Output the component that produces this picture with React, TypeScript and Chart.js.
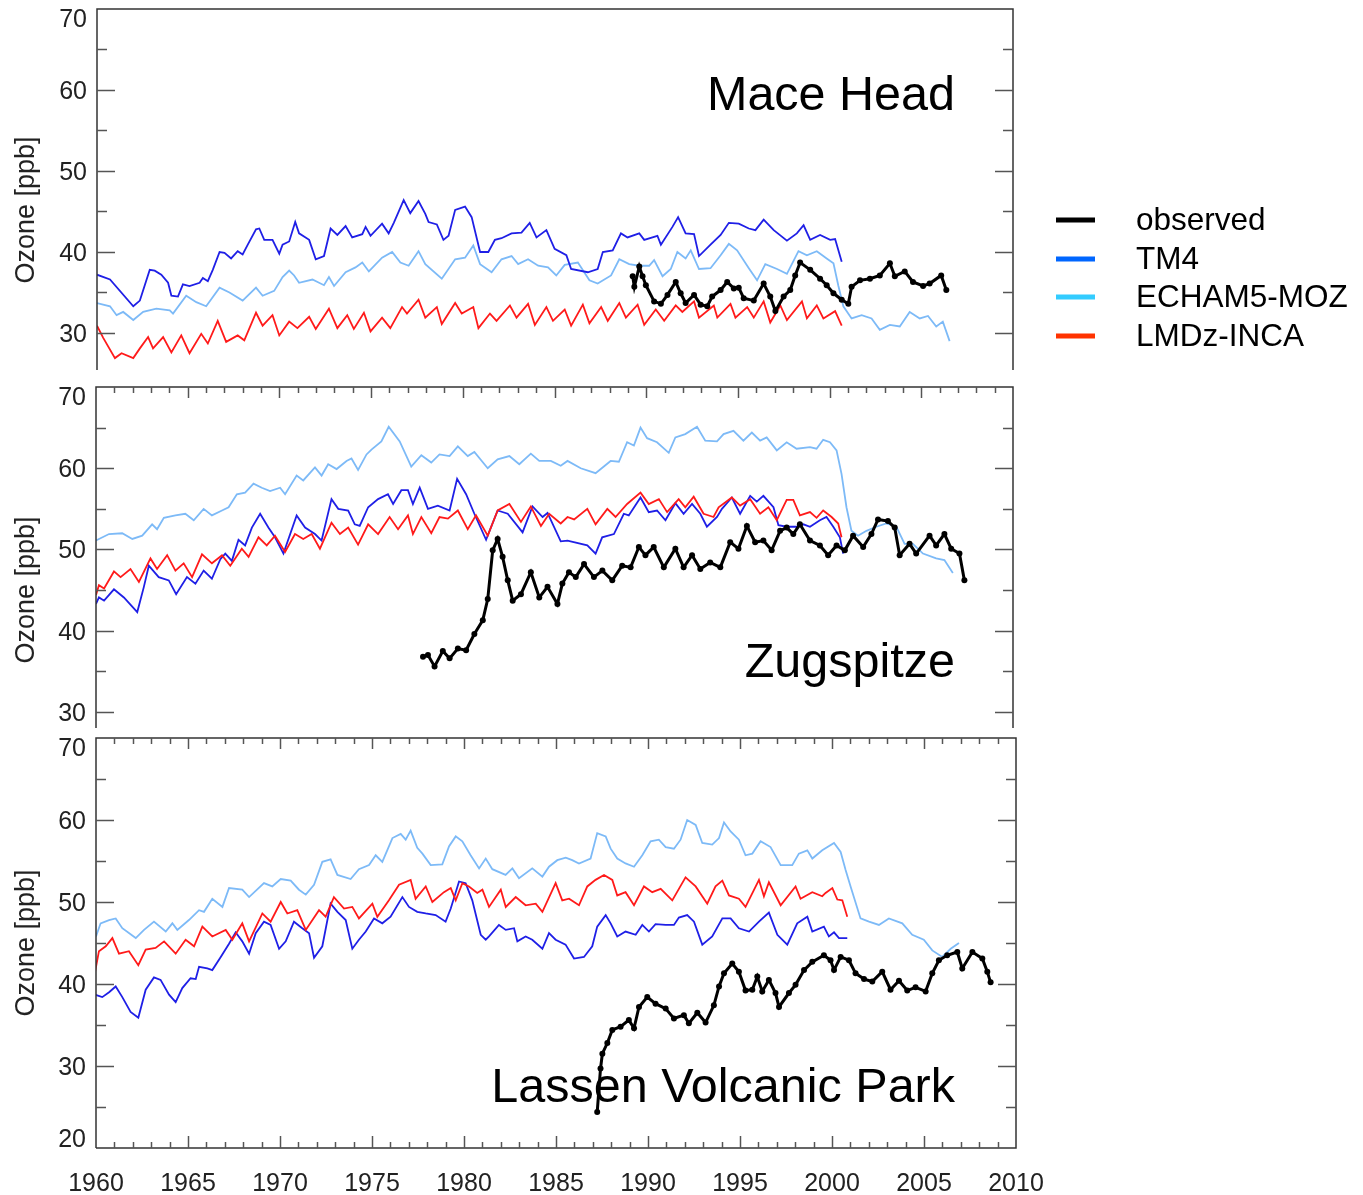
import React, { useEffect, useRef } from 'react';
import { Chart, registerables } from 'chart.js';

Chart.register(...registerables);

type Series = [number, number][];

// ---------- Mace Head ----------
const maceObserved: Series = [
  [1989.24, 37.0], [1989.33, 35.7], [1989.6, 38.2], [1989.78, 37.0], [1989.96, 35.9], [1990.41, 33.9], [1990.78, 33.6],
  [1991.14, 34.7], [1991.59, 36.3], [1991.86, 34.9], [1992.13, 33.7], [1992.59, 34.7], [1992.95, 33.5], [1993.31, 33.3],
  [1993.58, 34.5], [1994.04, 35.3], [1994.4, 36.3], [1994.76, 35.5], [1995.03, 35.6], [1995.3, 34.3], [1995.85, 34.0],
  [1996.39, 36.1], [1996.75, 34.5], [1997.03, 32.7], [1997.48, 34.5], [1997.84, 35.3], [1998.11, 37.1], [1998.38, 38.7],
  [1998.93, 37.8], [1999.47, 36.7], [1999.83, 35.9], [2000.2, 34.9], [2000.65, 34.1], [2001.01, 33.6], [2001.19, 35.7],
  [2001.65, 36.5], [2002.19, 36.7], [2002.73, 37.1], [2003.28, 38.6], [2003.55, 37.0], [2004.09, 37.6], [2004.54, 36.3],
  [2005.09, 35.8], [2005.45, 36.1], [2006.08, 37.1], [2006.36, 35.3],
];
const maceTM4: Series = [
  [1960.0, 37.2], [1960.71, 36.6], [1961.98, 33.3], [1962.34, 34.0], [1962.88, 37.8], [1963.15, 37.7], [1963.51, 37.2],
  [1963.88, 36.2], [1964.06, 34.6], [1964.42, 34.5], [1964.69, 36.0], [1965.05, 35.8], [1965.6, 36.2], [1965.78, 36.8],
  [1966.05, 36.4], [1966.32, 37.8], [1966.69, 40.0], [1966.96, 39.9], [1967.32, 39.2], [1967.68, 40.1], [1967.95, 39.7],
  [1968.23, 40.9], [1968.68, 42.8], [1968.86, 42.9], [1969.13, 41.5], [1969.58, 41.5], [1969.95, 39.8], [1970.13, 40.9],
  [1970.49, 41.3], [1970.82, 43.7], [1971.03, 42.3], [1971.58, 41.5], [1971.94, 39.1], [1972.39, 39.5], [1972.75, 42.9],
  [1973.12, 42.1], [1973.57, 43.2], [1973.93, 41.8], [1974.48, 42.2], [1974.66, 43.1], [1974.93, 42.0], [1975.56, 43.5],
  [1975.92, 42.3], [1976.2, 43.6], [1976.74, 46.4], [1977.1, 44.8], [1977.55, 46.3], [1977.92, 44.7], [1978.1, 43.7],
  [1978.55, 43.4], [1978.91, 41.5], [1979.19, 42.0], [1979.55, 45.2], [1980.09, 45.6], [1980.45, 44.3], [1980.91, 40.0],
  [1981.36, 40.0], [1981.72, 41.5], [1982.08, 41.7], [1982.63, 42.3], [1983.17, 42.4], [1983.62, 43.6], [1983.99, 41.8],
  [1984.53, 42.7], [1984.98, 40.4], [1985.62, 39.6], [1985.88, 37.9], [1986.79, 37.5], [1987.33, 37.9], [1987.61, 40.0],
  [1988.15, 40.2], [1988.6, 42.3], [1988.96, 41.8], [1989.6, 42.3], [1989.87, 41.5], [1990.59, 42.0], [1990.78, 40.9],
  [1991.41, 43.1], [1991.72, 44.3], [1992.13, 42.3], [1992.59, 42.2], [1992.86, 39.5], [1993.49, 40.9], [1994.04, 42.1],
  [1994.49, 43.6], [1995.03, 43.5], [1995.58, 42.9], [1995.94, 42.7], [1996.39, 44.0], [1996.94, 42.7], [1997.66, 41.4],
  [1998.2, 42.3], [1998.57, 43.3], [1998.93, 41.5], [1999.47, 42.1], [2000.02, 41.5], [2000.29, 41.6], [2000.65, 38.8],
];
const maceECHAM: Series = [
  [1960.0, 33.7], [1960.71, 33.3], [1961.07, 32.2], [1961.43, 32.6], [1961.98, 31.6], [1962.52, 32.6], [1963.24, 33.0],
  [1963.97, 32.8], [1964.15, 32.4], [1964.87, 34.6], [1965.42, 33.8], [1965.96, 33.3], [1966.69, 35.6], [1967.23, 35.0],
  [1967.95, 34.0], [1968.68, 35.6], [1969.04, 34.6], [1969.67, 35.2], [1970.13, 36.9], [1970.49, 37.7], [1970.76, 37.1],
  [1971.03, 36.2], [1971.76, 36.6], [1972.39, 35.9], [1972.66, 36.9], [1972.94, 35.8], [1973.57, 37.5], [1974.11, 38.1],
  [1974.48, 38.7], [1974.84, 37.6], [1975.56, 39.3], [1976.11, 40.0], [1976.56, 38.7], [1977.01, 38.3], [1977.55, 40.1],
  [1977.92, 38.5], [1978.82, 36.7], [1979.55, 39.1], [1980.09, 39.3], [1980.54, 40.8], [1980.91, 38.5], [1981.54, 37.5],
  [1982.08, 39.1], [1982.63, 39.5], [1982.99, 38.5], [1983.53, 39.1], [1984.08, 38.3], [1984.62, 38.1], [1985.07, 37.1],
  [1985.53, 38.4], [1986.25, 38.7], [1986.88, 36.5], [1987.33, 36.1], [1988.06, 37.1], [1988.51, 39.1], [1989.05, 38.5],
  [1989.6, 38.3], [1990.14, 38.3], [1990.41, 39.0], [1990.87, 37.0], [1991.32, 37.9], [1991.68, 40.0], [1992.13, 39.2],
  [1992.41, 40.2], [1992.86, 37.9], [1993.49, 38.0], [1994.04, 39.6], [1994.49, 41.0], [1994.94, 40.2], [1995.58, 38.0],
  [1996.03, 36.5], [1996.48, 38.5], [1997.12, 37.9], [1997.66, 37.3], [1998.29, 40.1], [1998.75, 39.6], [1999.29, 40.1],
  [1999.83, 39.2], [2000.2, 38.6], [2000.47, 35.8], [2000.74, 33.3], [2001.19, 31.8], [2001.74, 32.2], [2002.28, 31.8],
  [2002.73, 30.4], [2003.28, 31.0], [2003.82, 30.8], [2004.36, 32.6], [2004.91, 31.8], [2005.36, 32.1], [2005.81, 30.8],
  [2006.17, 31.4], [2006.54, 29.0],
];
const maceLMDz: Series = [
  [1960.0, 30.9], [1960.34, 29.4], [1960.98, 26.9], [1961.34, 27.5], [1961.98, 26.9], [1962.34, 28.1], [1962.79, 29.5],
  [1963.06, 28.1], [1963.61, 29.5], [1964.06, 27.6], [1964.6, 29.7], [1965.05, 27.5], [1965.69, 29.9], [1966.05, 28.7],
  [1966.59, 31.5], [1967.05, 28.9], [1967.68, 29.7], [1968.04, 29.1], [1968.68, 32.5], [1969.04, 30.9], [1969.58, 32.2],
  [1969.95, 29.7], [1970.49, 31.4], [1970.94, 30.6], [1971.58, 32.0], [1971.94, 30.5], [1972.66, 33.0], [1973.12, 30.6],
  [1973.66, 32.2], [1974.02, 30.5], [1974.57, 32.5], [1974.93, 30.2], [1975.56, 31.9], [1976.01, 30.6], [1976.65, 33.2],
  [1976.92, 32.4], [1977.55, 34.1], [1977.92, 31.9], [1978.55, 33.2], [1978.82, 31.1], [1979.55, 33.7], [1979.91, 32.4],
  [1980.54, 33.2], [1980.82, 30.6], [1981.45, 32.4], [1981.81, 31.5], [1982.54, 33.4], [1982.9, 31.9], [1983.53, 33.6],
  [1983.9, 31.0], [1984.53, 33.2], [1984.89, 31.5], [1985.53, 32.9], [1985.88, 30.9], [1986.52, 33.5], [1986.88, 31.2],
  [1987.52, 33.2], [1987.88, 31.5], [1988.51, 33.7], [1988.87, 31.9], [1989.51, 33.5], [1989.87, 31.0], [1990.5, 32.9],
  [1990.96, 31.5], [1991.59, 33.4], [1991.95, 32.6], [1992.59, 33.9], [1992.86, 31.9], [1993.67, 33.4], [1993.86, 31.9],
  [1994.58, 33.6], [1994.85, 31.9], [1995.49, 33.2], [1995.85, 31.9], [1996.39, 33.9], [1996.75, 31.3], [1997.3, 33.4],
  [1997.66, 31.6], [1998.48, 33.9], [1998.75, 31.8], [1999.29, 33.4], [1999.65, 31.8], [2000.29, 32.7], [2000.65, 30.9],
];

// ---------- Zugspitze ----------
const zugObserved: Series = [
  [1977.83, 36.8], [1978.1, 37.0], [1978.46, 35.6], [1978.91, 37.5], [1979.28, 36.6], [1979.73, 37.8], [1980.18, 37.6],
  [1980.63, 39.6], [1981.09, 41.3], [1981.36, 43.9], [1981.63, 49.9], [1981.9, 51.3], [1982.17, 49.1], [1982.45, 46.2],
  [1982.72, 43.7], [1983.17, 44.5], [1983.71, 47.2], [1984.17, 44.1], [1984.62, 45.4], [1985.16, 43.3], [1985.43, 45.8],
  [1985.79, 47.2], [1986.16, 46.6], [1986.61, 48.2], [1987.15, 46.6], [1987.61, 47.4], [1988.15, 46.2], [1988.69, 48.0],
  [1989.15, 47.8], [1989.6, 50.3], [1989.96, 49.3], [1990.41, 50.3], [1990.96, 47.8], [1991.59, 50.1], [1992.04, 47.8],
  [1992.5, 49.3], [1992.95, 47.6], [1993.49, 48.4], [1994.04, 47.8], [1994.58, 50.9], [1995.03, 50.1], [1995.49, 52.9],
  [1995.94, 50.9], [1996.39, 51.1], [1996.84, 49.9], [1997.3, 52.3], [1997.66, 52.7], [1998.02, 51.9], [1998.38, 53.1],
  [1998.93, 51.1], [1999.47, 50.5], [1999.92, 49.3], [2000.38, 50.5], [2000.83, 49.9], [2001.28, 51.7], [2001.83, 50.3],
  [2002.28, 51.9], [2002.64, 53.7], [2003.18, 53.5], [2003.55, 52.7], [2003.82, 49.3], [2004.36, 50.7], [2004.72, 49.5],
  [2005.45, 51.7], [2005.81, 50.5], [2006.26, 51.9], [2006.63, 50.1], [2007.08, 49.5], [2007.35, 46.2],
];
const zugTM4: Series = [
  [1960.0, 43.3], [1960.16, 44.1], [1960.44, 43.7], [1960.98, 45.1], [1961.52, 44.1], [1962.25, 42.3], [1962.61, 45.4],
  [1962.88, 48.0], [1963.42, 46.6], [1963.97, 46.2], [1964.37, 44.5], [1964.96, 46.6], [1965.42, 45.8], [1965.87, 47.4],
  [1966.32, 46.4], [1966.78, 48.8], [1967.05, 49.5], [1967.41, 48.6], [1967.77, 51.2], [1968.13, 50.5], [1968.5, 52.7],
  [1968.95, 54.4], [1969.4, 52.7], [1969.76, 51.5], [1970.22, 49.5], [1970.94, 54.2], [1971.4, 52.7], [1971.94, 51.9],
  [1972.3, 51.1], [1972.84, 56.2], [1973.21, 55.0], [1973.75, 54.8], [1974.11, 53.1], [1974.38, 52.9], [1974.84, 55.2],
  [1975.38, 56.2], [1975.92, 56.8], [1976.2, 55.6], [1976.65, 57.3], [1977.01, 57.3], [1977.28, 55.6], [1977.65, 57.6],
  [1978.1, 55.0], [1978.64, 55.4], [1979.28, 54.8], [1979.69, 58.7], [1980.18, 56.8], [1980.63, 54.4], [1981.27, 51.2],
  [1981.9, 54.8], [1982.45, 54.4], [1983.26, 52.1], [1983.8, 55.3], [1984.35, 54.0], [1984.62, 54.5], [1985.34, 51.0],
  [1985.71, 51.1], [1986.79, 50.5], [1987.24, 49.5], [1987.6, 51.5], [1988.24, 51.9], [1988.78, 54.4], [1989.05, 54.2],
  [1989.69, 56.4], [1990.14, 54.6], [1990.59, 54.8], [1991.05, 53.6], [1991.59, 55.7], [1992.04, 54.4], [1992.5, 55.6],
  [1992.95, 54.4], [1993.31, 52.8], [1993.86, 54.0], [1994.13, 55.0], [1994.67, 56.4], [1995.12, 54.4], [1995.67, 56.6],
  [1996.03, 55.9], [1996.39, 56.6], [1996.94, 55.2], [1997.21, 53.0], [1997.66, 52.8], [1998.2, 52.8], [1998.57, 53.1],
  [1998.93, 52.8], [1999.47, 53.6], [1999.83, 54.0], [2000.2, 52.8], [2000.56, 51.5], [2000.74, 49.5],
];
const zugECHAM: Series = [
  [1960.0, 51.1], [1960.71, 51.9], [1961.43, 52.0], [1961.98, 51.3], [1962.52, 51.7], [1963.06, 53.1], [1963.33, 52.5],
  [1963.7, 53.9], [1964.33, 54.2], [1964.87, 54.4], [1965.33, 53.6], [1965.87, 55.0], [1966.32, 54.2], [1966.87, 54.8],
  [1967.23, 55.2], [1967.68, 56.8], [1968.13, 57.0], [1968.59, 58.1], [1969.04, 57.6], [1969.49, 57.2], [1970.04, 57.6],
  [1970.31, 56.8], [1970.94, 59.1], [1971.3, 58.5], [1971.94, 60.1], [1972.3, 59.1], [1972.66, 60.5], [1973.12, 59.9],
  [1973.66, 60.9], [1973.93, 61.2], [1974.29, 59.8], [1974.75, 61.7], [1975.02, 62.3], [1975.56, 63.3], [1975.96, 65.1],
  [1976.56, 63.3], [1977.19, 60.2], [1977.74, 61.6], [1978.28, 60.7], [1978.73, 61.7], [1979.28, 61.5], [1979.73, 62.7],
  [1980.27, 61.5], [1980.63, 62.0], [1981.36, 60.0], [1981.9, 61.1], [1982.54, 61.5], [1983.08, 60.5], [1983.71, 61.8],
  [1984.17, 60.9], [1984.8, 60.9], [1985.34, 60.3], [1985.71, 60.9], [1986.43, 60.0], [1987.24, 59.4], [1988.06, 60.9],
  [1988.51, 60.8], [1988.96, 63.2], [1989.33, 62.8], [1989.69, 65.0], [1990.05, 63.7], [1990.59, 63.2], [1991.23, 61.9],
  [1991.59, 63.8], [1992.13, 64.2], [1992.77, 65.1], [1993.22, 63.4], [1993.86, 63.3], [1994.22, 64.2], [1994.76, 64.6],
  [1995.3, 63.4], [1995.76, 64.4], [1996.21, 63.4], [1996.57, 63.8], [1997.12, 62.2], [1997.66, 63.2], [1998.2, 62.4],
  [1998.93, 62.6], [1999.29, 62.4], [1999.65, 63.5], [2000.02, 63.2], [2000.38, 62.2], [2000.65, 59.3], [2000.92, 55.2],
  [2001.19, 52.3], [2001.55, 51.7], [2002.01, 52.3], [2002.55, 52.8], [2003.09, 53.2], [2003.64, 52.8], [2004.09, 50.7],
  [2004.54, 50.7], [2005.09, 49.5], [2005.81, 48.9], [2006.26, 48.7], [2006.72, 47.1],
];
const zugLMDz: Series = [
  [1960.0, 44.4], [1960.16, 45.6], [1960.44, 45.2], [1960.98, 47.3], [1961.34, 46.6], [1961.88, 47.6], [1962.34, 46.0],
  [1962.97, 48.9], [1963.33, 47.6], [1963.88, 49.3], [1964.33, 47.4], [1964.78, 48.3], [1965.24, 46.6], [1965.78, 49.4],
  [1966.32, 48.3], [1966.87, 49.3], [1967.32, 48.0], [1967.95, 50.1], [1968.32, 49.1], [1968.86, 51.5], [1969.31, 50.5],
  [1969.76, 51.7], [1970.31, 49.7], [1970.85, 51.9], [1971.3, 51.3], [1971.76, 51.9], [1972.21, 50.1], [1972.84, 53.3],
  [1973.3, 51.9], [1973.75, 52.7], [1974.29, 50.6], [1974.84, 53.1], [1975.38, 51.9], [1976.01, 54.0], [1976.47, 52.5],
  [1977.01, 54.2], [1977.28, 51.9], [1977.74, 54.0], [1978.28, 52.0], [1978.73, 54.0], [1979.19, 53.8], [1979.73, 54.8],
  [1980.27, 52.5], [1980.72, 54.2], [1981.36, 51.7], [1981.9, 54.8], [1982.54, 55.6], [1983.17, 53.4], [1983.71, 55.3],
  [1984.26, 52.9], [1984.71, 54.4], [1985.34, 53.2], [1985.71, 54.0], [1986.07, 53.7], [1986.79, 55.0], [1987.24, 53.1],
  [1987.88, 55.0], [1988.33, 54.0], [1988.96, 55.6], [1989.69, 57.0], [1990.14, 55.6], [1990.69, 56.2], [1991.14, 54.6],
  [1991.77, 56.2], [1992.13, 55.2], [1992.59, 56.5], [1993.13, 54.4], [1993.67, 54.0], [1993.95, 55.2], [1994.67, 56.4],
  [1995.12, 55.4], [1995.67, 56.2], [1996.21, 54.4], [1996.66, 55.2], [1997.12, 53.6], [1997.66, 56.1], [1998.02, 56.1],
  [1998.38, 54.2], [1998.93, 54.6], [1999.29, 53.9], [1999.65, 54.8], [2000.11, 54.0], [2000.47, 53.2], [2000.65, 51.5],
];

// ---------- Lassen Volcanic Park ----------
const lassenObserved: Series = [
  [1987.24, 24.4], [1987.42, 29.7], [1987.52, 31.5], [1987.79, 32.8], [1988.06, 34.4], [1988.51, 34.8], [1988.96, 35.6],
  [1989.24, 34.6], [1989.51, 37.2], [1989.96, 38.4], [1990.41, 37.6], [1990.96, 37.0], [1991.41, 35.8], [1991.95, 36.2],
  [1992.22, 35.2], [1992.68, 36.5], [1993.13, 35.3], [1993.58, 37.4], [1993.86, 39.7], [1994.13, 41.3], [1994.58, 42.5],
  [1994.94, 41.5], [1995.3, 39.2], [1995.67, 39.3], [1995.94, 40.9], [1996.21, 39.1], [1996.57, 40.5], [1996.93, 38.9],
  [1997.12, 37.2], [1997.66, 38.9], [1998.02, 39.9], [1998.48, 41.7], [1998.93, 42.7], [1999.56, 43.5], [1999.92, 42.9],
  [2000.11, 41.7], [2000.47, 43.3], [2000.92, 42.9], [2001.28, 41.3], [2001.74, 40.6], [2002.19, 40.3], [2002.73, 41.5],
  [2003.18, 39.3], [2003.64, 40.4], [2004.09, 39.2], [2004.54, 39.6], [2005.09, 39.1], [2005.45, 41.3], [2005.81, 42.9],
  [2006.26, 43.5], [2006.81, 43.9], [2007.08, 41.9], [2007.63, 43.9], [2008.17, 43.1], [2008.44, 41.5], [2008.62, 40.2],
];
const lassenTM4: Series = [
  [1959.95, 38.7], [1960.34, 38.4], [1960.71, 39.0], [1961.07, 39.7], [1961.43, 38.4], [1961.88, 36.6], [1962.3, 35.9],
  [1962.7, 39.3], [1963.15, 40.8], [1963.51, 40.5], [1963.97, 38.7], [1964.33, 37.8], [1964.69, 39.5], [1965.14, 40.7],
  [1965.42, 40.6], [1965.6, 42.1], [1966.05, 41.9], [1966.32, 41.7], [1966.78, 43.3], [1967.23, 44.9], [1967.59, 46.3],
  [1967.95, 45.2], [1968.32, 43.7], [1968.68, 46.2], [1969.13, 47.6], [1969.49, 47.2], [1969.95, 44.3], [1970.31, 45.2],
  [1970.76, 47.6], [1971.21, 46.8], [1971.58, 46.2], [1971.85, 43.2], [1972.3, 44.6], [1972.75, 49.8], [1973.12, 48.8],
  [1973.57, 47.8], [1973.93, 44.3], [1974.29, 45.4], [1974.66, 46.4], [1975.11, 48.0], [1975.56, 47.4], [1976.01, 48.2],
  [1976.65, 50.6], [1977.01, 49.4], [1977.46, 48.8], [1977.92, 48.6], [1978.46, 48.4], [1979.0, 47.6], [1979.28, 49.2],
  [1979.73, 52.5], [1980.09, 52.3], [1980.45, 50.2], [1980.91, 46.0], [1981.18, 45.4], [1981.36, 45.8], [1981.9, 47.2],
  [1982.27, 46.6], [1982.72, 46.8], [1982.9, 45.2], [1983.35, 45.8], [1983.71, 45.4], [1984.26, 44.3], [1984.62, 46.2],
  [1984.98, 45.4], [1985.52, 44.8], [1985.98, 43.1], [1986.52, 43.3], [1986.97, 44.6], [1987.24, 47.0], [1987.7, 48.4],
  [1987.97, 47.4], [1988.33, 45.8], [1988.78, 46.4], [1989.33, 46.0], [1989.69, 47.2], [1990.05, 46.4], [1990.41, 47.3],
  [1990.96, 47.2], [1991.41, 47.2], [1991.68, 48.1], [1992.13, 48.4], [1992.5, 47.6], [1992.95, 44.8], [1993.49, 45.8],
  [1994.04, 48.0], [1994.49, 48.0], [1994.94, 46.8], [1995.49, 46.4], [1996.03, 47.6], [1996.57, 48.7], [1997.03, 46.0],
  [1997.57, 44.8], [1998.11, 47.4], [1998.66, 48.2], [1998.93, 46.4], [1999.56, 47.0], [1999.83, 45.8], [2000.11, 46.3],
  [2000.38, 45.6], [2000.83, 45.6],
];
const lassenECHAM: Series = [
  [1960.0, 45.8], [1960.25, 47.4], [1960.71, 47.8], [1961.07, 48.0], [1961.43, 46.8], [1962.16, 45.6], [1962.61, 46.6],
  [1963.15, 47.6], [1963.79, 46.4], [1964.15, 47.4], [1964.42, 46.6], [1965.05, 47.8], [1965.6, 49.0], [1965.87, 48.8],
  [1966.32, 50.4], [1966.87, 49.4], [1967.23, 51.7], [1967.95, 51.5], [1968.32, 50.6], [1969.13, 52.3], [1969.58, 51.9],
  [1970.04, 52.8], [1970.58, 52.6], [1971.03, 51.5], [1971.4, 50.9], [1971.85, 52.1], [1972.3, 54.9], [1972.75, 55.2],
  [1973.12, 53.3], [1973.84, 52.8], [1974.29, 54.0], [1974.84, 54.5], [1975.2, 55.7], [1975.56, 54.9], [1976.11, 57.8],
  [1976.56, 58.3], [1976.83, 57.6], [1977.1, 58.7], [1977.46, 56.6], [1977.74, 55.9], [1978.19, 54.5], [1978.82, 54.6],
  [1979.19, 56.8], [1979.55, 58.0], [1979.91, 57.4], [1980.36, 55.7], [1980.82, 54.1], [1981.18, 55.3], [1981.54, 54.0],
  [1982.26, 53.3], [1982.63, 54.1], [1982.99, 52.9], [1983.71, 54.1], [1984.26, 53.1], [1984.62, 54.3], [1985.07, 55.1],
  [1985.53, 55.4], [1985.88, 55.1], [1986.25, 54.7], [1986.88, 55.3], [1987.24, 58.4], [1987.7, 58.0], [1987.97, 56.5],
  [1988.33, 55.3], [1988.78, 54.7], [1989.24, 54.3], [1989.69, 55.7], [1990.14, 57.4], [1990.59, 57.6], [1990.96, 56.7],
  [1991.41, 56.5], [1991.77, 57.6], [1992.13, 60.0], [1992.59, 59.4], [1992.95, 57.2], [1993.49, 57.0], [1993.86, 57.8],
  [1994.13, 59.7], [1994.49, 58.6], [1994.94, 57.6], [1995.3, 55.7], [1995.67, 55.9], [1996.12, 57.4], [1996.66, 56.7],
  [1997.21, 54.5], [1997.84, 54.5], [1998.2, 55.9], [1998.66, 56.3], [1998.93, 55.3], [1999.47, 56.3], [2000.11, 57.2],
  [2000.47, 56.1], [2000.74, 53.9], [2001.01, 51.9], [2001.55, 48.0], [2002.01, 47.6], [2002.55, 47.2], [2003.09, 48.0],
  [2003.82, 47.4], [2004.36, 46.0], [2004.99, 45.4], [2005.45, 44.1], [2005.99, 43.3], [2006.45, 44.3], [2006.9, 45.0],
];
const lassenLMDz: Series = [
  [1959.95, 41.5], [1960.16, 44.0], [1960.53, 44.6], [1960.89, 45.6], [1961.25, 43.7], [1961.79, 44.0], [1962.3, 42.3],
  [1962.7, 44.2], [1963.24, 44.4], [1963.7, 45.2], [1964.33, 43.7], [1964.87, 45.4], [1965.33, 44.6], [1965.78, 47.0],
  [1966.32, 45.8], [1967.05, 46.6], [1967.41, 45.4], [1967.95, 47.4], [1968.32, 45.2], [1969.04, 48.6], [1969.49, 47.6],
  [1970.04, 50.0], [1970.4, 48.6], [1970.94, 49.0], [1971.4, 46.6], [1972.12, 49.0], [1972.48, 48.2], [1972.93, 50.6],
  [1973.48, 49.2], [1973.93, 49.4], [1974.29, 48.0], [1975.02, 49.8], [1975.29, 48.2], [1975.92, 50.2], [1976.47, 52.1],
  [1977.1, 52.7], [1977.37, 50.4], [1977.92, 51.9], [1978.28, 50.0], [1978.91, 51.2], [1979.28, 51.7], [1979.55, 50.2],
  [1979.91, 52.3], [1980.27, 51.9], [1980.72, 51.1], [1981.0, 51.5], [1981.36, 49.4], [1982.0, 51.5], [1982.27, 49.4],
  [1982.81, 50.6], [1983.35, 49.6], [1983.9, 49.8], [1984.26, 48.8], [1984.98, 52.3], [1985.34, 50.2], [1985.71, 50.4],
  [1986.25, 49.6], [1986.7, 51.9], [1987.15, 52.7], [1987.61, 53.3], [1988.06, 52.7], [1988.33, 50.8], [1988.78, 51.2],
  [1989.24, 49.6], [1989.78, 51.9], [1990.23, 51.2], [1990.69, 51.6], [1991.32, 50.2], [1992.04, 53.0], [1992.59, 51.9],
  [1993.22, 49.8], [1993.67, 51.9], [1994.04, 52.6], [1994.4, 50.8], [1994.94, 50.4], [1995.3, 49.4], [1996.03, 52.7],
  [1996.3, 50.7], [1996.57, 52.4], [1997.21, 49.6], [1998.02, 51.9], [1998.29, 50.4], [1998.93, 51.2], [1999.47, 50.7],
  [1999.65, 51.1], [2000.02, 51.7], [2000.29, 50.3], [2000.56, 50.2], [2000.83, 48.2],
];

const yearTicks = [1960, 1965, 1970, 1975, 1980, 1985, 1990, 1995, 2000, 2005, 2010];
const upperYLabels = [70, 60, 50, 40, 30];
const lowerYLabels = [70, 60, 50, 40, 30, 20];
const legendLabels = ['observed', 'TM4', 'ECHAM5-MOZ', 'LMDz-INCA'];
const legendColors = ['#000000', '#0066ff', '#33ccff', '#ff3300'];

const COLOR_TM4 = '#1f1fe6';
const COLOR_ECHAM = '#7dbaf7';
const COLOR_LMDZ = '#ff1a1a';
const FONT = '"Liberation Sans", Arial, Helvetica, sans-serif';

interface PanelDef {
  title: string;
  top: number;
  height: number;
  pad: { left: number; right: number; top: number; bottom: number };
  yMin: number;
  yMax: number;
  yLabels: number[];
  topTicks: boolean;
  bottomAxis: boolean;
  titleBaseline: number;
  yTitleCenter: number;
  legend: boolean;
  observed: Series;
  tm4: Series;
  echam: Series;
  lmdz: Series;
}

const panels: PanelDef[] = [
  {
    title: 'Mace Head', top: 0, height: 378,
    pad: { left: 97, right: 350, top: 9, bottom: 8 },
    yMin: 25.43, yMax: 70, yLabels: upperYLabels, topTicks: false, bottomAxis: false,
    titleBaseline: 110, yTitleCenter: 210, legend: true,
    observed: maceObserved, tm4: maceTM4, echam: maceECHAM, lmdz: maceLMDz,
  },
  {
    title: 'Zugspitze', top: 378, height: 355,
    pad: { left: 96, right: 350, top: 9, bottom: 5 },
    yMin: 28.03, yMax: 70, yLabels: upperYLabels, topTicks: true, bottomAxis: false,
    titleBaseline: 299, yTitleCenter: 212, legend: false,
    observed: zugObserved, tm4: zugTM4, echam: zugECHAM, lmdz: zugLMDz,
  },
  {
    title: 'Lassen Volcanic Park', top: 733, height: 462,
    pad: { left: 96, right: 347, top: 5, bottom: 47 },
    yMin: 20, yMax: 70, yLabels: lowerYLabels, topTicks: true, bottomAxis: true,
    titleBaseline: 369, yTitleCenter: 210, legend: false,
    observed: lassenObserved, tm4: lassenTM4, echam: lassenECHAM, lmdz: lassenLMDz,
  },
];

const toXY = (s: Series) => s.map(([x, y]) => ({ x, y }));

function decoPlugin(p: PanelDef) {
  return {
    id: 'panelDeco',
    afterDatasetsDraw(chart: any) {
      const { ctx, chartArea: a, scales } = chart;
      const xs = scales.x;
      const ys = scales.y;
      ctx.save();
      // frame
      ctx.strokeStyle = '#333';
      ctx.lineWidth = 1.5;
      ctx.beginPath();
      ctx.moveTo(a.left, a.bottom);
      ctx.lineTo(a.left, a.top);
      ctx.lineTo(a.right, a.top);
      ctx.lineTo(a.right, a.bottom);
      if (p.bottomAxis) ctx.lineTo(a.left, a.bottom);
      ctx.stroke();

      // y ticks (left and right)
      ctx.strokeStyle = '#555';
      ctx.lineWidth = 1.5;
      for (let v = 20; v <= 70; v += 5) {
        if (v <= p.yMin || v >= p.yMax) continue;
        const y = Math.round(ys.getPixelForValue(v)) + 0.5;
        const len = v % 10 === 0 ? 18 : 10;
        ctx.beginPath();
        ctx.moveTo(a.left, y);
        ctx.lineTo(a.left + len, y);
        ctx.moveTo(a.right - len, y);
        ctx.lineTo(a.right, y);
        ctx.stroke();
      }
      // x ticks
      for (let yr = 1961; yr < 2010; yr++) {
        const x = Math.round(xs.getPixelForValue(yr)) + 0.5;
        const major = yr % 5 === 0;
        if (p.topTicks) {
          ctx.beginPath();
          ctx.moveTo(x, a.top);
          ctx.lineTo(x, a.top + (major ? 11 : 6));
          ctx.stroke();
        }
        if (p.bottomAxis) {
          ctx.beginPath();
          ctx.moveTo(x, a.bottom);
          ctx.lineTo(x, a.bottom - (major ? 12 : 6));
          ctx.stroke();
        }
      }

      // y tick labels
      ctx.fillStyle = '#222';
      ctx.font = `25px ${FONT}`;
      ctx.textAlign = 'right';
      ctx.textBaseline = 'middle';
      for (const v of p.yLabels) {
        let y = ys.getPixelForValue(v) + 2;
        y = Math.max(a.top + 11, Math.min(a.bottom - 8, y));
        ctx.fillText(String(v), a.left - 10, y);
      }

      // x tick labels
      if (p.bottomAxis) {
        ctx.textAlign = 'center';
        for (const yr of yearTicks) {
          ctx.fillText(String(yr), xs.getPixelForValue(yr), a.bottom + 36);
        }
      }

      // y axis title
      ctx.save();
      ctx.translate(27, p.yTitleCenter);
      ctx.rotate(-Math.PI / 2);
      ctx.textAlign = 'center';
      ctx.textBaseline = 'middle';
      ctx.font = `27px ${FONT}`;
      ctx.fillText('Ozone [ppb]', 0, 0);
      ctx.restore();

      // station name
      ctx.fillStyle = '#000';
      ctx.font = `48.5px ${FONT}`;
      ctx.textAlign = 'right';
      ctx.textBaseline = 'alphabetic';
      ctx.fillText(p.title, 955, p.titleBaseline);

      // legend
      if (p.legend) {
        const ys0 = [220, 259, 297, 336];
        legendLabels.forEach((lab, i) => {
          ctx.strokeStyle = legendColors[i];
          ctx.lineWidth = 5;
          ctx.beginPath();
          ctx.moveTo(1056, ys0[i]);
          ctx.lineTo(1095, ys0[i]);
          ctx.stroke();
          ctx.fillStyle = '#000';
          ctx.font = `31.5px ${FONT}`;
          ctx.textAlign = 'left';
          ctx.textBaseline = 'middle';
          ctx.fillText(lab, 1136, ys0[i] + 1);
        });
      }
      ctx.restore();
    },
  };
}

function makeConfig(p: PanelDef): any {
  return {
    type: 'line',
    data: {
      datasets: [
        {
          label: 'observed', data: toXY(p.observed), borderColor: '#000', backgroundColor: '#000',
          borderWidth: 3, pointRadius: 3, pointBorderWidth: 0, pointBackgroundColor: '#000', tension: 0,
        },
        { label: 'LMDz-INCA', data: toXY(p.lmdz), borderColor: COLOR_LMDZ, borderWidth: 1.8, pointRadius: 0, tension: 0 },
        { label: 'TM4', data: toXY(p.tm4), borderColor: COLOR_TM4, borderWidth: 1.8, pointRadius: 0, tension: 0 },
        { label: 'ECHAM5-MOZ', data: toXY(p.echam), borderColor: COLOR_ECHAM, borderWidth: 1.8, pointRadius: 0, tension: 0 },
      ],
    },
    options: {
      responsive: false,
      animation: false,
      devicePixelRatio: 1,
      layout: { padding: p.pad },
      scales: {
        x: { type: 'linear', min: 1960, max: 2010, display: false },
        y: { type: 'linear', min: p.yMin, max: p.yMax, display: false },
      },
      plugins: { legend: { display: false }, tooltip: { enabled: false } },
      events: [],
    },
    plugins: [decoPlugin(p)],
  };
}

export default function App() {
  const r0 = useRef<HTMLCanvasElement>(null);
  const r1 = useRef<HTMLCanvasElement>(null);
  const r2 = useRef<HTMLCanvasElement>(null);
  const refs = [r0, r1, r2];

  useEffect(() => {
    const charts = panels.map((p, i) => new Chart(refs[i].current as HTMLCanvasElement, makeConfig(p)));
    return () => charts.forEach((c) => c.destroy());
  }, []);

  return (
    <div style={{ position: 'absolute', left: 0, top: 0, width: 1363, height: 1195, background: '#fff' }}>
      {panels.map((p, i) => (
        <canvas
          key={p.title}
          ref={refs[i]}
          width={1363}
          height={p.height}
          style={{ position: 'absolute', left: 0, top: p.top, width: 1363, height: p.height, display: 'block' }}
        />
      ))}
    </div>
  );
}
